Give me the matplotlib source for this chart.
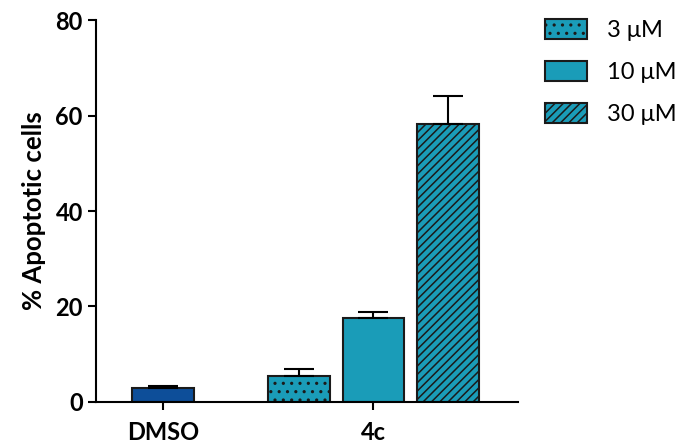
import matplotlib
matplotlib.use("Agg")
import matplotlib.pyplot as plt
from matplotlib.patches import Patch

# =========================
# Data
# =========================

groups = ["DMSO", "4c"]
dmso_mean = 2.9
dmso_err = 0.4
conc_labels = ["3 μM", "10 μM", "30 μM"]
conc_means = [5.5, 17.6, 58.2]
conc_errs = [1.4, 1.3, 5.9]

# =========================
# Style
# =========================

plt.rcParams["font.family"] = ["Lato", "DejaVu Sans"]
plt.rcParams["hatch.linewidth"] = 1.1
dark_blue = "#0d4e99"
teal = "#1a9cb8"
edge = "#1a1a1a"
hatches = ["..", "", "////"]

fig = plt.figure(figsize=(6.83, 4.43), dpi=100)
ax = fig.add_axes([0.1406, 0.0926, 0.6174, 0.8622])

# DMSO bar
ax.bar(0, dmso_mean, width=0.83, color=dark_blue, edgecolor=edge, linewidth=1.5)
ax.errorbar(0, dmso_mean, yerr=[[0], [dmso_err]], fmt="none", ecolor="black",
            elinewidth=1.5, capsize=11, capthick=1.5)

# 4c bars
xs = [1.83, 2.83, 3.83]
for x, m, e, h in zip(xs, conc_means, conc_errs, hatches):
    ax.bar(x, m, width=0.83, color=teal, edgecolor=edge, linewidth=1.5, hatch=h)
    ax.errorbar(x, m, yerr=[[0], [e]], fmt="none", ecolor="black",
                elinewidth=1.5, capsize=11, capthick=1.5)

ax.set_xlim(-0.9, 4.77)
ax.set_ylim(0, 80)
ax.set_yticks([0, 20, 40, 60, 80])
ax.set_xticks([0, 2.83])
ax.set_xticklabels(groups)
ax.spines["top"].set_visible(False)
ax.spines["right"].set_visible(False)
ax.spines["left"].set_linewidth(1.5)
ax.spines["bottom"].set_linewidth(1.5)
ax.tick_params(axis="both", direction="out", length=6, width=1.5,
               labelsize=17)
ax.tick_params(axis="x", pad=8)
for lbl in ax.get_xticklabels() + ax.get_yticklabels():
    lbl.set_fontweight("bold")
ax.set_ylabel("% Apoptotic cells", fontsize=18.5, fontweight="bold", labelpad=7)

handles = [Patch(facecolor=teal, edgecolor=edge, linewidth=1.5, hatch=h)
           for h in hatches]
fig.legend(handles, conc_labels, loc="upper left", bbox_to_anchor=(0.798, 0.958),
           frameon=False, fontsize=17, handlelength=1.76, handleheight=0.94,
           labelspacing=0.84, handletextpad=0.85, borderpad=0, borderaxespad=0)

fig.savefig("out.png", dpi=100)
